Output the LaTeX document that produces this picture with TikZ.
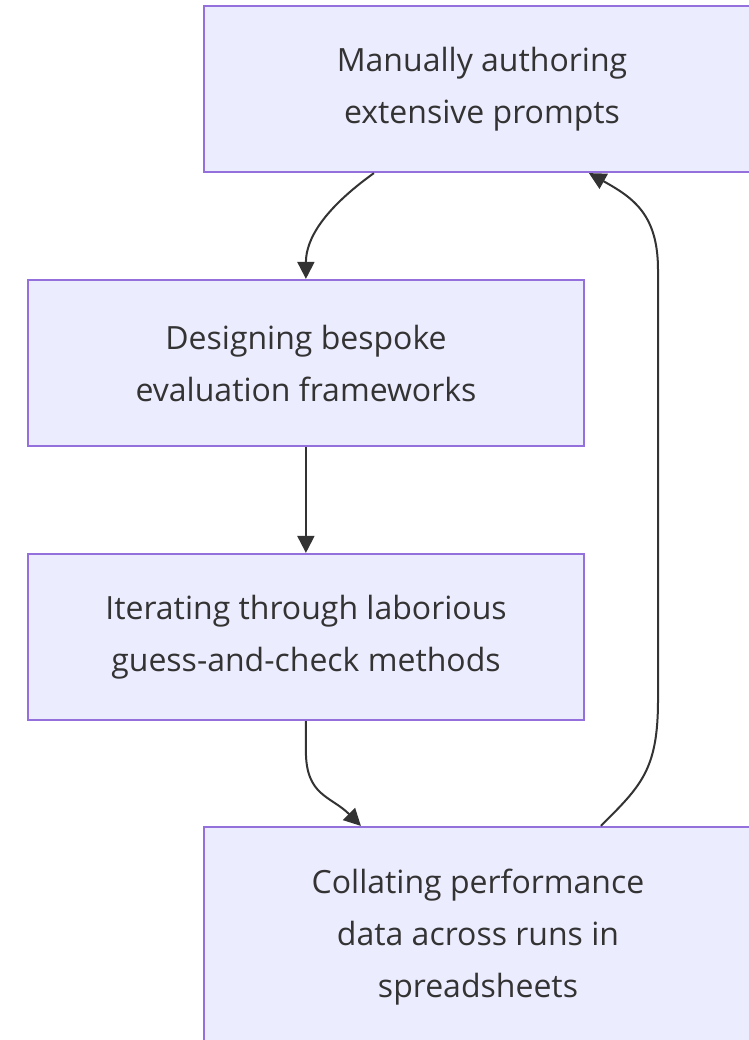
\documentclass[tikz,border=0pt]{standalone}
\usepackage{fontspec}
\setmainfont{Open Sans}
\usetikzlibrary{arrows.meta,calc}
\definecolor{boxfill}{HTML}{ECECFF}
\definecolor{boxline}{HTML}{9370DB}
\definecolor{ink}{HTML}{333333}
\begin{document}
\begin{tikzpicture}[x=1pt,y=-1pt,
  stepbox/.style={draw=boxline,fill=boxfill,line width=2.2pt,
    minimum width=556pt,minimum height=166pt,inner sep=0pt,
    align=center,text=ink,font=\fontsize{32}{52}\selectfont},
  flow/.style={draw=ink,line width=2pt,
    -{Triangle[length=17pt,width=17pt]}}]
\useasboundingbox (0,0) rectangle (748,1040);
\node[stepbox] (b1) at (482,89) {Manually authoring\\extensive prompts};
\node[stepbox] (b2) at (306,363) {Designing bespoke\\evaluation frameworks};
\node[stepbox] (b3) at (306,637) {Iterating through laborious\\guess-and-check methods};
\node[stepbox,minimum width=548pt,minimum height=220pt] (b4) at (478,937)
  {Collating performance\\data across runs in\\spreadsheets};
% connectors
\draw[flow] ($(b1.south west)+(171,0)$) .. controls +(-50,36) and +(0,-40) .. ($(b2.north west)+(279,0)$);
\draw[flow] ($(b2.south west)+(279,0)$) -- ($(b3.north west)+(279,0)$);
\draw[flow] ($(b3.south west)+(279,0)$) -- ++(0,30) .. controls +(0,45) and +(-30,-30) .. ($(b4.north west)+(158,0)$);
\draw[flow] ($(b4.north west)+(398,0)$) .. controls +(40,-40) and +(0,70) .. (658,700)
  -- (658,270) .. controls +(0,-55) and +(45,25) .. ($(b1.south west)+(386,0)$);
\end{tikzpicture}
\end{document}
